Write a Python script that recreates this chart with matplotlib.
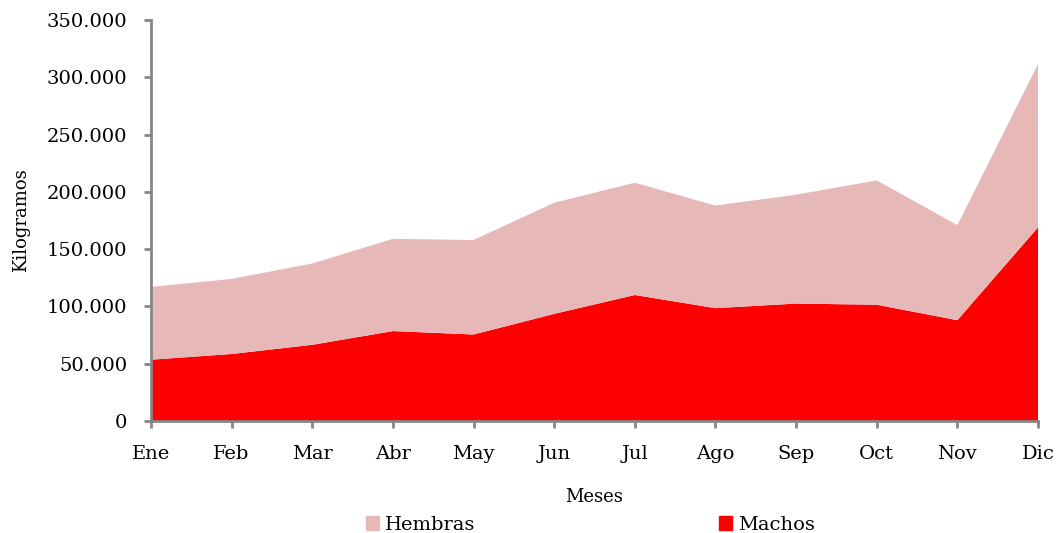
import matplotlib.pyplot as plt
from matplotlib.ticker import FuncFormatter
from matplotlib.patches import Patch

meses = ["Ene", "Feb", "Mar", "Abr", "May", "Jun", "Jul", "Ago", "Sep", "Oct", "Nov", "Dic"]
machos = [53500, 58500, 66500, 78500, 75500, 93500, 110000, 98500, 102500, 101500, 88000, 169000]
hembras = [63500, 65500, 71000, 80500, 82500, 97000, 98000, 89500, 95000, 108500, 83000, 142500]

color_machos = "#FF0000"
color_hembras = "#E6B9B8"
gris = "#868686"

plt.rcParams["font.family"] = ["DejaVu Serif"]

fig = plt.figure(figsize=(10.58, 5.33), dpi=100)
ax = fig.add_axes([0.1427, 0.2101, 0.8384, 0.7524])

x = list(range(len(meses)))
ax.stackplot(x, machos, hembras, colors=[color_machos, color_hembras], linewidth=0)

ax.set_xlim(0, len(meses) - 1)
ax.set_ylim(0, 350000)
ax.set_yticks(range(0, 350001, 50000))
ax.yaxis.set_major_formatter(FuncFormatter(lambda v, p: f"{int(v):,}".replace(",", ".")))
ax.set_xticks(x)
ax.set_xticklabels(meses)

for s in ["top", "right"]:
    ax.spines[s].set_visible(False)
for s in ["left", "bottom"]:
    ax.spines[s].set_color(gris)
    ax.spines[s].set_linewidth(2)

ax.tick_params(axis="both", colors=gris, width=2, length=5, labelsize=14, labelcolor="black")
ax.tick_params(axis="x", pad=12)
ax.tick_params(axis="y", pad=12)

ax.set_xlabel("Meses", fontsize=13, labelpad=18)
ax.set_ylabel("Kilogramos", fontsize=13, labelpad=12)

handles = [Patch(color=color_hembras, label="Hembras"), Patch(color=color_machos, label="Machos")]
fig.legend(handles=handles, loc="center", bbox_to_anchor=(0.558, 0.015), ncol=2, frameon=False,
           fontsize=14, handlelength=0.7, handleheight=0.7, handletextpad=0.3, columnspacing=12.5)

fig.savefig("out.png", dpi=100)
